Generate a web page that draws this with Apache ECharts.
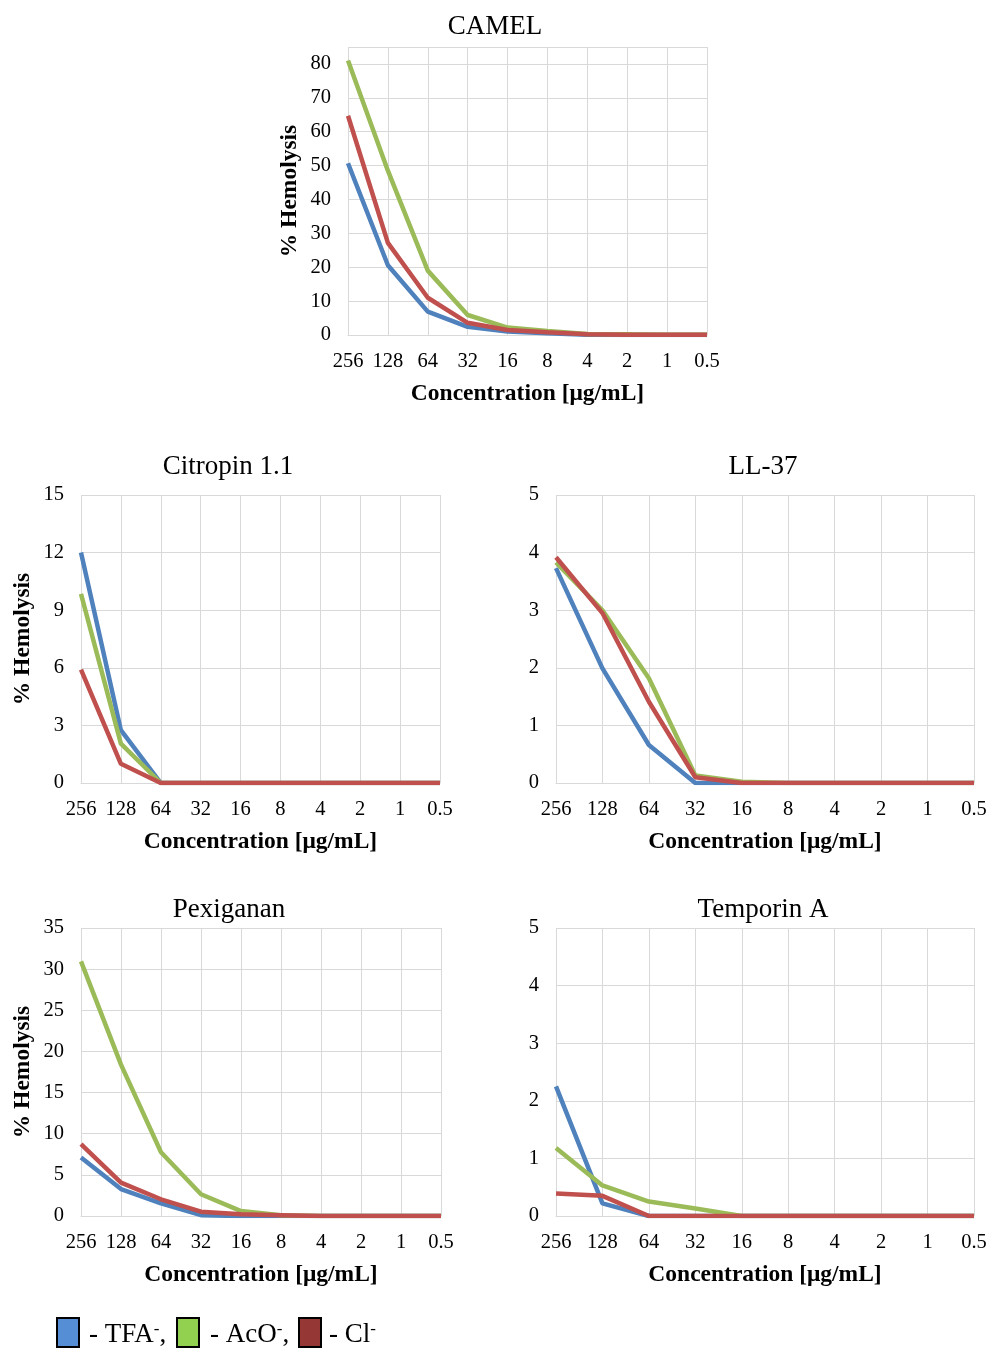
<!DOCTYPE html>
<html>
<head>
<meta charset="utf-8">
<script src="https://cdn.jsdelivr.net/npm/echarts@6/dist/echarts.min.js"></script>
<style>
  html, body { margin: 0; padding: 0; background: #fff; }
  #chart { width: 989px; height: 1349px; }
</style>
</head>
<body>
<div id="chart"></div>
<script>
// x categories (same for every panel)
const concentrations = ['256', '128', '64', '32', '16', '8', '4', '2', '1', '0.5'];

// % hemolysis per counter-ion
const camelTFA = [50.7, 20.6, 6.9, 2.4, 1.0, 0.5, 0.1, 0, 0, 0];
const camelAcO = [81, 48.5, 19, 5.9, 2.2, 1.2, 0.3, 0.2, 0.1, 0.1];
const camelCl = [64.7, 27.2, 11, 3.6, 1.5, 0.8, 0.2, 0.1, 0.1, 0.1];

const citropinTFA = [12.0, 2.75, 0, 0, 0, 0, 0, 0, 0, 0];
const citropinAcO = [9.85, 2.05, 0, 0, 0, 0, 0, 0, 0, 0];
const citropinCl = [5.9, 1.0, 0, 0, 0, 0, 0, 0, 0, 0];

const ll37TFA = [3.73, 1.99, 0.66, 0, 0, 0, 0, 0, 0, 0];
const ll37AcO = [3.83, 3.0, 1.82, 0.13, 0.02, 0, 0, 0, 0, 0];
const ll37Cl = [3.92, 2.95, 1.41, 0.1, 0, 0, 0, 0, 0, 0];

const pexigananTFA = [7.1, 3.28, 1.54, 0.1, 0, 0, 0, 0, 0, 0];
const pexigananAcO = [30.95, 18.4, 7.75, 2.64, 0.6, 0.1, 0, 0, 0, 0];
const pexigananCl = [8.72, 4.05, 2.03, 0.53, 0.2, 0.1, 0, 0, 0, 0];

const temporinTFA = [2.25, 0.22, 0, 0, 0, 0, 0, 0, 0, 0];
const temporinAcO = [1.18, 0.53, 0.25, 0.13, 0, 0, 0, 0, 0, 0];
const temporinCl = [0.39, 0.35, 0, 0, 0, 0, 0, 0, 0, 0];

const panelTitles = ['CAMEL', 'Citropin 1.1', 'LL-37', 'Pexiganan', 'Temporin A'];
const yMax = [85, 15, 5, 35, 5];
const yStep = [10, 3, 1, 5, 1];

const FONT = '"Liberation Serif", "Times New Roman", serif';
const GRID_COLOR = '#d9d9d9';
const lineColors = { tfa: '#4f81bd', aco: '#9bbb59', cl: '#c0504d' };

const panels = [
  { title: panelTitles[0], tfa: camelTFA, aco: camelAcO, cl: camelCl, grid: { left: 348, top: 47, width: 359, height: 288 }, titlePos: [490, 8], yName: true },
  { title: panelTitles[1], tfa: citropinTFA, aco: citropinAcO, cl: citropinCl, grid: { left: 81, top: 495, width: 359, height: 288 }, titlePos: [223, 448], yName: true },
  { title: panelTitles[2], tfa: ll37TFA, aco: ll37AcO, cl: ll37Cl, grid: { left: 556, top: 495, width: 418, height: 288 }, titlePos: [758, 448], yName: false },
  { title: panelTitles[3], tfa: pexigananTFA, aco: pexigananAcO, cl: pexigananCl, grid: { left: 81, top: 928, width: 360, height: 288 }, titlePos: [224, 891], yName: true },
  { title: panelTitles[4], tfa: temporinTFA, aco: temporinAcO, cl: temporinCl, grid: { left: 556, top: 928, width: 418, height: 288 }, titlePos: [758, 891], yName: false },
];

const grids = [], xAxes = [], yAxes = [], series = [], titles = [];

panels.forEach((p, i) => {
  grids.push(Object.assign({ containLabel: false, outerBoundsMode: 'none' }, p.grid));

  titles.push({
    text: p.title,
    left: p.titlePos[0],
    top: p.titlePos[1],
    textAlign: 'center',
    textStyle: { fontFamily: FONT, fontSize: 27, fontWeight: 'normal', color: '#000' },
  });

  xAxes.push({
    type: 'category',
    gridIndex: i,
    data: concentrations,
    boundaryGap: false,
    name: 'Concentration [μg/mL]',
    nameLocation: 'middle',
    nameGap: 47,
    nameTextStyle: { fontFamily: FONT, fontSize: 23.5, fontWeight: 'bold', color: '#000' },
    axisLine: { show: true, lineStyle: { color: GRID_COLOR, width: 1 } },
    axisTick: { show: false },
    axisLabel: { fontFamily: FONT, fontSize: 20.5, color: '#000', margin: 16, interval: 0 },
    splitLine: { show: true, lineStyle: { color: GRID_COLOR, width: 1 } },
  });

  yAxes.push({
    type: 'value',
    gridIndex: i,
    min: 0,
    max: yMax[i],
    interval: yStep[i],
    name: p.yName ? '% Hemolysis' : '',
    nameLocation: 'middle',
    nameRotate: 90,
    nameGap: 46,
    nameTextStyle: { fontFamily: FONT, fontSize: 23.5, fontWeight: 'bold', color: '#000' },
    axisLine: { show: false },
    axisTick: { show: false },
    axisLabel: { fontFamily: FONT, fontSize: 20.5, color: '#000', margin: 17, showMaxLabel: yMax[i] % yStep[i] === 0 },
    splitLine: { show: true, lineStyle: { color: GRID_COLOR, width: 1 } },
  });

  [['TFA', p.tfa, lineColors.tfa], ['AcO', p.aco, lineColors.aco], ['Cl', p.cl, lineColors.cl]].forEach(([name, data, color]) => {
    series.push({
      name,
      type: 'line',
      xAxisIndex: i,
      yAxisIndex: i,
      data,
      symbol: 'none',
      lineStyle: { color, width: 4.5 },
      itemStyle: { color },
      animation: false,
    });
  });
});

// legend at the bottom: coloured squares followed by "- TFA⁻," etc.
const legendItems = [
  { x: 57, fill: '#558ed5', textX: 89, name: 'TFA', tail: ',' },
  { x: 177, fill: '#92d050', textX: 210, name: 'AcO', tail: ',' },
  { x: 299, fill: '#953735', textX: 329, name: 'Cl', tail: '' },
];
const legendGraphics = [];
legendItems.forEach((it) => {
  legendGraphics.push({
    type: 'rect',
    shape: { x: it.x, y: 1318, width: 22, height: 29 },
    style: { fill: it.fill, stroke: '#000', lineWidth: 2 },
  });
  legendGraphics.push({
    type: 'text',
    x: it.textX,
    y: 1335,
    style: {
      text: '{n|- ' + it.name + '}{s|-}{n|' + it.tail + '}',
      verticalAlign: 'middle',
      textVerticalAlign: 'middle',
      rich: {
        n: { fontFamily: FONT, fontSize: 27, fill: '#000', verticalAlign: 'bottom' },
        s: { fontFamily: FONT, fontSize: 17, fill: '#000', verticalAlign: 'top' },
      },
    },
  });
});

const chart = echarts.init(document.getElementById('chart'));
chart.setOption({
  animation: false,
  backgroundColor: '#fff',
  title: titles,
  grid: grids,
  xAxis: xAxes,
  yAxis: yAxes,
  series,
  graphic: legendGraphics,
});
</script>
</body>
</html>
